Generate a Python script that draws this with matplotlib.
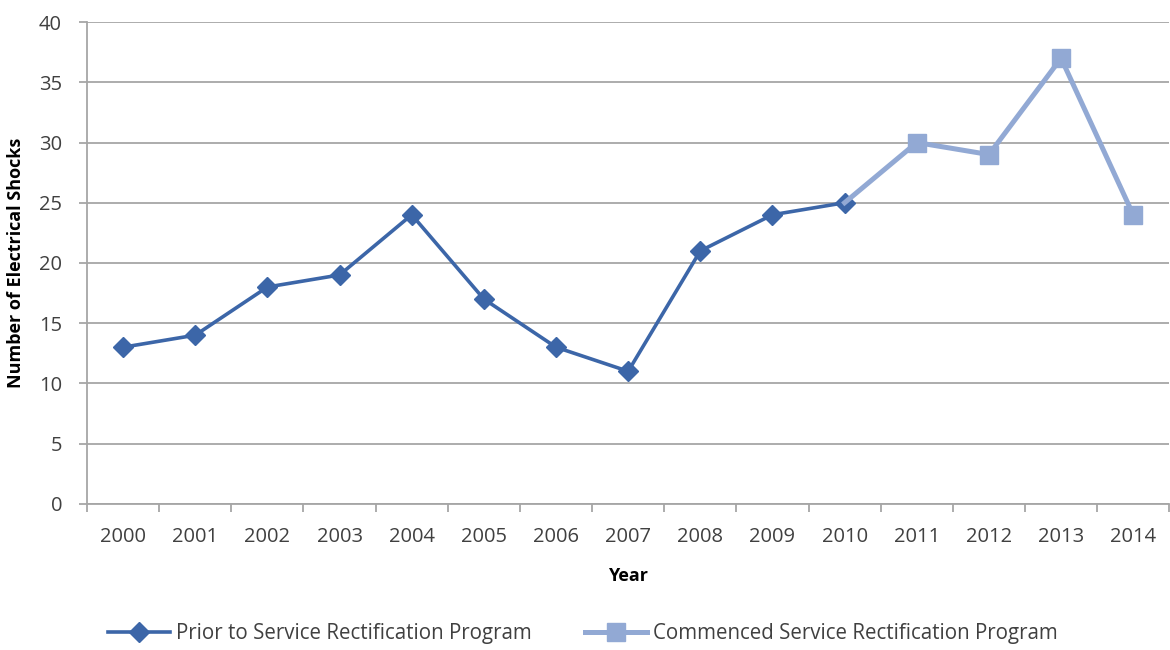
import matplotlib
matplotlib.use("Agg")
import matplotlib.pyplot as plt
import numpy as np

years = [str(y) for y in range(2000, 2015)]
prior_years = years[:11]
prior_shocks = [13, 14, 18, 19, 24, 17, 13, 11, 21, 24, 25]
commenced_years = years[10:]
commenced_shocks = [25, 30, 29, 37, 24]
y_ticks = [0, 5, 10, 15, 20, 25, 30, 35, 40]

DARK = "#3C66A8"
LIGHT = "#92A9D4"
GRID = "#A6A6A6"
TEXT = "#404040"

plt.rcParams["font.family"] = ["Open Sans", "DejaVu Sans"]

fig = plt.figure(figsize=(11.7, 6.5), dpi=100)
ax = fig.add_axes([0.0744, 0.225, 0.925, 0.741])

idx = {y: i for i, y in enumerate(years)}
xp = [idx[y] for y in prior_years]
xc = [idx[y] for y in commenced_years]

ax.plot(xp, prior_shocks, color=DARK, lw=2.6, marker="D", ms=10,
        mfc=DARK, mec=DARK, label="Prior to Service Rectification Program", zorder=3)
ax.plot(xc, commenced_shocks, color=LIGHT, lw=3.6, marker="s", ms=13,
        mfc=LIGHT, mec=LIGHT, markevery=list(range(1, len(xc))),
        label="Commenced Service Rectification Program", zorder=4)

ax.set_xlim(-0.5, len(years) - 0.5)
ax.set_ylim(0, 40)
ax.set_yticks(y_ticks)
ax.set_xticks(range(len(years)))
ax.set_xticklabels(years)
ax.set_xticks(np.arange(-0.5, len(years), 1), minor=True)

ax.yaxis.grid(True, color=GRID, lw=1.3)
ax.set_axisbelow(True)
for side in ("top", "right"):
    ax.spines[side].set_visible(False)
for side in ("left", "bottom"):
    ax.spines[side].set_color(GRID)
    ax.spines[side].set_linewidth(1.3)

ax.tick_params(axis="x", which="major", length=0, pad=17, labelsize=14.5, labelcolor=TEXT)
ax.tick_params(axis="x", which="minor", length=6, width=1.3, color=GRID, direction="out")
ax.tick_params(axis="y", length=6, width=1.3, color=GRID, pad=12, labelsize=14.5, labelcolor=TEXT)

ax.set_xlabel("Year", fontsize=13, fontweight="bold", color="#000000", labelpad=14)
ax.set_ylabel("Number of Electrical Shocks", fontsize=13, fontweight="bold", color="#000000", labelpad=10)

ax.legend(loc="upper center", bbox_to_anchor=(0.458, -0.21), ncol=2, frameon=False,
          fontsize=14.8, handlelength=3.0, columnspacing=2.6, handletextpad=0.3,
          labelcolor=TEXT)

fig.savefig("out.png", dpi=100)
